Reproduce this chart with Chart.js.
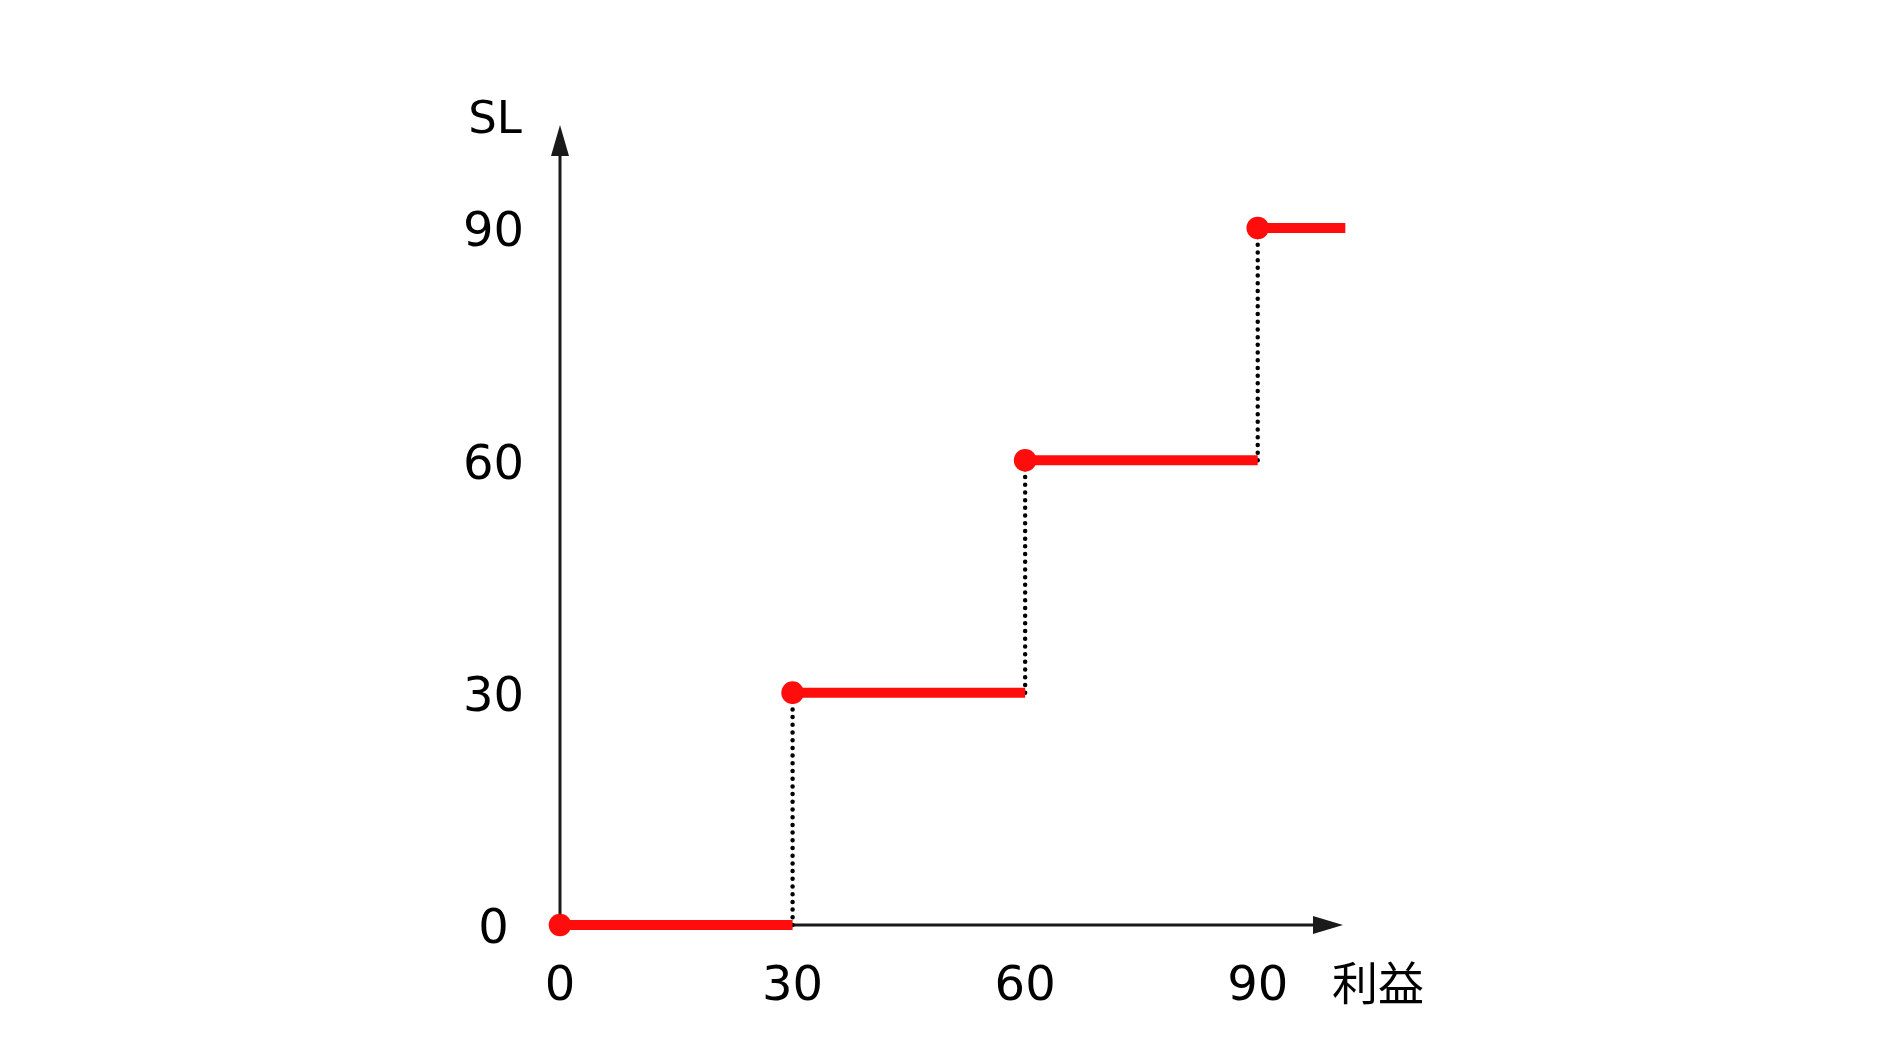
<!DOCTYPE html>
<html>
<head>
<meta charset="utf-8">
<script src="https://cdn.jsdelivr.net/npm/chart.js@4.4.1/dist/chart.umd.min.js"></script>
<style>
  html, body { margin: 0; padding: 0; background: #fff; }
  #wrap { width: 1898px; height: 1058px; }
</style>
</head>
<body>
<div id="wrap"><canvas id="slChart" width="1898" height="1058"></canvas></div>
<script>
// profit where each stop-loss level starts / ends, and the level itself
const levelStart = [0, 30, 60, 90];
const levelEnd   = [30, 60, 90, 101.3];
const slLevel    = [0, 30, 60, 90];

const xTicks = [0, 30, 60, 90];
const yTicks = [0, 30, 60, 90];

const xLabel = '利益';
const yLabel = 'SL';

const FONT = "'DejaVu Sans', Verdana, sans-serif";
const RED = 'rgb(255,12,12)';
const AXIS = '#1a1a1a';

// red steps, broken with null between levels
const stepData = [];
const stepRadius = [];
for (let i = 0; i < slLevel.length; i++) {
  stepData.push({ x: levelStart[i], y: slLevel[i] });
  stepData.push({ x: levelEnd[i], y: slLevel[i] });
  stepData.push({ x: levelEnd[i], y: null });
  stepRadius.push(11.3, 0, 0);
}

// dotted risers between levels
const riserData = [];
for (let i = 1; i < slLevel.length; i++) {
  riserData.push({ x: levelStart[i], y: slLevel[i - 1] });
  riserData.push({ x: levelStart[i], y: slLevel[i] });
  riserData.push({ x: levelStart[i], y: null });
}

const arrowAxes = {
  id: 'arrowAxes',
  beforeDatasetsDraw(chart) {
    const ctx = chart.ctx;
    const a = chart.chartArea;
    ctx.save();
    ctx.strokeStyle = AXIS;
    ctx.fillStyle = AXIS;
    ctx.lineWidth = 3;
    // y axis
    ctx.beginPath();
    ctx.moveTo(a.left, a.bottom);
    ctx.lineTo(a.left, a.top + 20);
    ctx.stroke();
    ctx.beginPath();
    ctx.moveTo(a.left, a.top);
    ctx.lineTo(a.left - 9, a.top + 31);
    ctx.lineTo(a.left + 9, a.top + 31);
    ctx.closePath();
    ctx.fill();
    // x axis
    ctx.beginPath();
    ctx.moveTo(a.left, a.bottom);
    ctx.lineTo(a.right - 20, a.bottom);
    ctx.stroke();
    ctx.beginPath();
    ctx.moveTo(a.right, a.bottom);
    ctx.lineTo(a.right - 30, a.bottom - 9);
    ctx.lineTo(a.right - 30, a.bottom + 9);
    ctx.closePath();
    ctx.fill();
    ctx.restore();
  },
  afterDraw(chart) {
    const ctx = chart.ctx;
    const a = chart.chartArea;
    ctx.save();
    ctx.fillStyle = '#000';
    ctx.textAlign = 'center';
    ctx.textBaseline = 'middle';
    ctx.font = '45px ' + FONT;
    ctx.fillText(yLabel, a.left - 65, a.top - 4);
    ctx.font = "46px 'Noto Sans CJK JP', sans-serif";
    ctx.fillText(xLabel, a.right + 35, a.bottom + 58);
    ctx.restore();
  }
};

new Chart(document.getElementById('slChart'), {
  type: 'scatter',
  data: {
    datasets: [
      {
        label: 'riser',
        data: riserData,
        showLine: true,
        spanGaps: false,
        clip: false,
        borderColor: '#000',
        borderWidth: 4.5,
        borderDash: [0, 7.7],
        borderCapStyle: 'round',
        pointRadius: 0,
        order: 2
      },
      {
        label: 'SL',
        data: stepData,
        showLine: true,
        spanGaps: false,
        clip: false,
        borderColor: RED,
        borderWidth: 10,
        borderCapStyle: 'butt',
        pointRadius: stepRadius,
        pointBackgroundColor: RED,
        pointBorderWidth: 0,
        order: 1
      }
    ]
  },
  options: {
    responsive: false,
    animation: false,
    devicePixelRatio: 1,
    layout: { padding: { left: 0, right: 555, top: 125, bottom: 0 } },
    plugins: {
      legend: { display: false },
      tooltip: { enabled: false }
    },
    scales: {
      x: {
        type: 'linear',
        min: 0,
        max: 101,
        grid: { display: false, drawTicks: false },
        border: { display: false },
        afterBuildTicks: (s) => { s.ticks = xTicks.map(v => ({ value: v })); },
        afterFit: (s) => { s.height = 133; },
        ticks: {
          color: '#000',
          padding: 34,
          maxRotation: 0,
          font: { family: FONT, size: 48 }
        }
      },
      y: {
        type: 'linear',
        min: 0,
        max: 103.3,
        grid: { display: false, drawTicks: false },
        border: { display: false },
        afterBuildTicks: (s) => { s.ticks = yTicks.map(v => ({ value: v })); },
        afterFit: (s) => { s.width = 560; },
        ticks: {
          color: '#000',
          padding: 36,
          crossAlign: 'center',
          labelOffset: 6,
          font: { family: FONT, size: 48 }
        }
      }
    }
  },
  plugins: [arrowAxes]
});
</script>
</body>
</html>
